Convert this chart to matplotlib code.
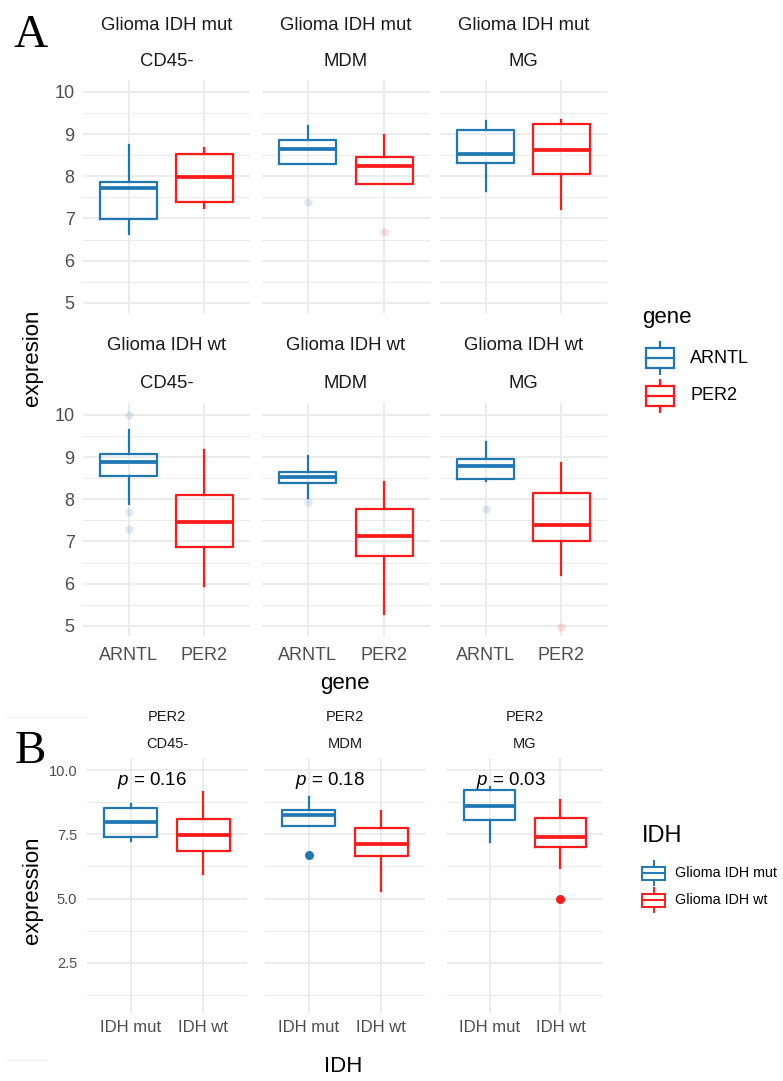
import matplotlib
matplotlib.use("Agg")
import matplotlib.pyplot as plt
from matplotlib.lines import Line2D

plt.rcParams['font.family'] = ['Liberation Sans', 'DejaVu Sans']
plt.rcParams['mathtext.fontset'] = 'custom'
plt.rcParams['mathtext.it'] = 'Liberation Sans:italic'
plt.rcParams['mathtext.rm'] = 'Liberation Sans'

# ---------------- data ----------------
cell_types = ["CD45-", "MDM", "MG"]
genes = ["ARNTL", "PER2"]
idh_groups = ["Glioma IDH mut", "Glioma IDH wt"]
idh_ticks = ["IDH mut", "IDH wt"]
p_values = ["0.16", "0.18", "0.03"]

# box statistics per cell type: [whislo, q1, median, q3, whishi]
arntl_mut = [[6.62, 6.98, 7.71, 7.87, 8.73],
             [8.30, 8.30, 8.64, 8.85, 9.19],
             [7.65, 8.31, 8.52, 9.10, 9.30]]
per2_mut = [[7.24, 7.39, 7.98, 8.52, 8.67],
            [7.81, 7.81, 8.24, 8.46, 8.97],
            [7.22, 8.05, 8.62, 9.23, 9.33]]
arntl_wt = [[7.88, 8.56, 8.88, 9.08, 9.65],
            [8.02, 8.39, 8.53, 8.65, 9.02],
            [8.44, 8.48, 8.78, 8.96, 9.36]]
per2_wt = [[5.95, 6.87, 7.46, 8.11, 9.16],
           [5.29, 6.65, 7.14, 7.76, 8.41],
           [6.21, 7.00, 7.38, 8.15, 8.85]]

# outliers per cell type
arntl_mut_out = [[], [7.38], []]
per2_mut_out = [[], [6.69], []]
arntl_wt_out = [[10.0, 7.70, 7.30], [7.93], [7.77]]
per2_wt_out = [[], [], [4.97]]

BLUE = "#1F78B4"
RED = "#FF1A1A"
GRID = "#EBEBEB"
TICKC = "#4D4D4D"
STRIPC = "#1A1A1A"

W, H = 783, 1081
fig = plt.figure(figsize=(W / 100, H / 100), dpi=100)


def rect(x0, y0, x1, y1):
    return [x0 / W, 1 - y1 / H, (x1 - x0) / W, (y1 - y0) / H]


def fx(x):
    return x / W


def fy(y):
    return 1 - y / H


def stats(v, out, label):
    return dict(whislo=v[0], q1=v[1], med=v[2], q3=v[3], whishi=v[4],
                fliers=out, label=label)


def style_axes(ax, ylim, majors, minors, show_x, show_y, xlabels, fs_x, fs_y, padx, pady):
    ax.set_xlim(-0.6, 1.6)
    ax.set_ylim(*ylim)
    for s in ax.spines.values():
        s.set_visible(False)
    ax.set_facecolor("white")
    for yv in minors:
        ax.axhline(yv, color=GRID, lw=0.7, zorder=0)
    for yv in majors:
        ax.axhline(yv, color=GRID, lw=1.3, zorder=0)
    for xv in [0, 1]:
        ax.axvline(xv, color=GRID, lw=1.3, zorder=0)
    ax.set_yticks(majors)
    ax.set_xticks([0, 1])
    ax.tick_params(length=0, colors=TICKC)
    if show_y:
        ax.set_yticklabels([("%g" % m) if fs_y > 11 else ("%.1f" % m) for m in majors],
                           fontsize=fs_y, color=TICKC)
        ax.tick_params(axis='y', pad=pady)
    else:
        ax.set_yticklabels([])
    if show_x:
        ax.set_xticklabels(xlabels, fontsize=fs_x, color=TICKC)
        ax.tick_params(axis='x', pad=padx)
    else:
        ax.set_xticklabels([])


def draw_boxes(ax, st_list, colors, flier_alpha, ms, width):
    res = ax.bxp(st_list, positions=[0, 1], widths=width, showcaps=False,
                 patch_artist=False, manage_ticks=False)
    for i, c in enumerate(colors):
        res['boxes'][i].set(color=c, linewidth=1.6)
        res['medians'][i].set(color=c, linewidth=2.7, solid_capstyle='butt')
        for w in res['whiskers'][2 * i:2 * i + 2]:
            w.set(color=c, linewidth=1.6)
        res['fliers'][i].set(marker='o', markerfacecolor=c, markeredgecolor='none',
                             markersize=ms, alpha=flier_alpha)


# ---------------- Panel A ----------------
colsA = [(83, 250), (262, 430), (440, 607)]
rowsA = [(80, 313), (403, 636)]
stripA = [(25, 61), (346, 383)]
ylimA = (4.76, 10.28)
majA = [5, 6, 7, 8, 9, 10]
minA = [5.5, 6.5, 7.5, 8.5, 9.5]
dataA = [(arntl_mut, per2_mut, arntl_mut_out, per2_mut_out),
         (arntl_wt, per2_wt, arntl_wt_out, per2_wt_out)]

for r, (y0, y1) in enumerate(rowsA):
    a_vals, p_vals, a_out, p_out = dataA[r]
    for c, (x0, x1) in enumerate(colsA):
        ax = fig.add_axes(rect(x0, y0, x1, y1))
        style_axes(ax, ylimA, majA, minA, r == 1, c == 0, genes, 13, 13, 8, 6)
        draw_boxes(ax, [stats(a_vals[c], a_out[c], genes[0]),
                        stats(p_vals[c], p_out[c], genes[1])],
                   [BLUE, RED], 0.15, 6, 0.75)
        xc = (x0 + x1) / 2
        fig.text(fx(xc), fy(stripA[r][0]), idh_groups[r], ha='center', va='center',
                 fontsize=13.3, color=STRIPC)
        fig.text(fx(xc), fy(stripA[r][1]), cell_types[c], ha='center', va='center',
                 fontsize=13.3, color=STRIPC)

fig.text(fx(345), fy(684), "gene", ha='center', va='center', fontsize=16)
fig.text(fx(32), fy(358), "expresion", ha='center', va='center', fontsize=16,
         rotation=90)

# legend A
fig.text(fx(642), fy(318), "gene", ha='left', va='center', fontsize=16)
for i, (g, c) in enumerate(zip(genes, [BLUE, RED])):
    yc = 358 + i * 38
    lax = fig.add_axes(rect(642, yc - 17, 678, yc + 17))
    lax.set_xlim(0, 1)
    lax.set_ylim(0, 1)
    lax.axis('off')
    lax.add_patch(plt.Rectangle((0.1, 0.22), 0.8, 0.56, fill=False, ec=c, lw=1.6))
    lax.plot([0.1, 0.9], [0.5, 0.5], color=c, lw=1.6)
    lax.plot([0.5, 0.5], [0.78, 0.96], color=c, lw=1.6)
    lax.plot([0.5, 0.5], [0.04, 0.22], color=c, lw=1.6)
    fig.text(fx(690), fy(yc), g, ha='left', va='center', fontsize=13)

# ---------------- Panel B ----------------
colsB = [(87, 247), (265, 425), (447, 603)]
rowB = (758, 1013)
ylimB = (0.55, 10.47)
majB = [2.5, 5.0, 7.5, 10.0]
minB = [1.25, 3.75, 6.25, 8.75]
for c, (x0, x1) in enumerate(colsB):
    ax = fig.add_axes(rect(x0, rowB[0], x1, rowB[1]))
    style_axes(ax, ylimB, majB, minB, True, c == 0, idh_ticks, 12, 10.5, 5, 7)
    draw_boxes(ax, [stats(per2_mut[c], per2_mut_out[c], idh_groups[0]),
                    stats(per2_wt[c], per2_wt_out[c], idh_groups[1])],
               [BLUE, RED], 1.0, 6.5, 0.72)
    ax.text(-0.19, 9.58, r"$p$ = " + p_values[c], ha='left', va='center',
            fontsize=13.5, color='black')
    xc = (x0 + x1) / 2
    fig.text(fx(xc), fy(717), genes[1], ha='center', va='center', fontsize=10.5,
             color=STRIPC)
    fig.text(fx(xc), fy(744), cell_types[c], ha='center', va='center', fontsize=10.5,
             color=STRIPC)

fig.text(fx(343), fy(1067), "IDH", ha='center', va='center', fontsize=16)
fig.text(fx(33), fy(890), "expression", ha='center', va='center', fontsize=16,
         rotation=90)

# legend B
fig.text(fx(642), fy(836), "IDH", ha='left', va='center', fontsize=17)
for i, (g, c) in enumerate(zip(idh_groups, [BLUE, RED])):
    yc = 873 + i * 27
    lax = fig.add_axes(rect(640, yc - 13, 667, yc + 13))
    lax.set_xlim(0, 1)
    lax.set_ylim(0, 1)
    lax.axis('off')
    lax.add_patch(plt.Rectangle((0.08, 0.25), 0.84, 0.5, fill=False, ec=c, lw=1.4))
    lax.plot([0.08, 0.92], [0.5, 0.5], color=c, lw=1.4)
    lax.plot([0.5, 0.5], [0.75, 0.95], color=c, lw=1.4)
    lax.plot([0.5, 0.5], [0.05, 0.25], color=c, lw=1.4)
    fig.text(fx(675), fy(yc), g, ha='left', va='center', fontsize=10.3)

# panel letters
fig.text(fx(14), fy(47), "A", ha='left', va='baseline', fontsize=34,
         family=['Liberation Serif', 'DejaVu Serif'])
fig.text(fx(15), fy(763), "B", ha='left', va='baseline', fontsize=34,
         family=['Liberation Serif', 'DejaVu Serif'])

# faint separator remnants
fig.add_artist(Line2D([fx(7), fx(88)], [fy(717), fy(717)], color="#F2F2F2", lw=1))
fig.add_artist(Line2D([fx(7), fx(47)], [fy(1060), fy(1060)], color="#F2F2F2", lw=1))

fig.savefig("out.png", dpi=100, facecolor="white")
